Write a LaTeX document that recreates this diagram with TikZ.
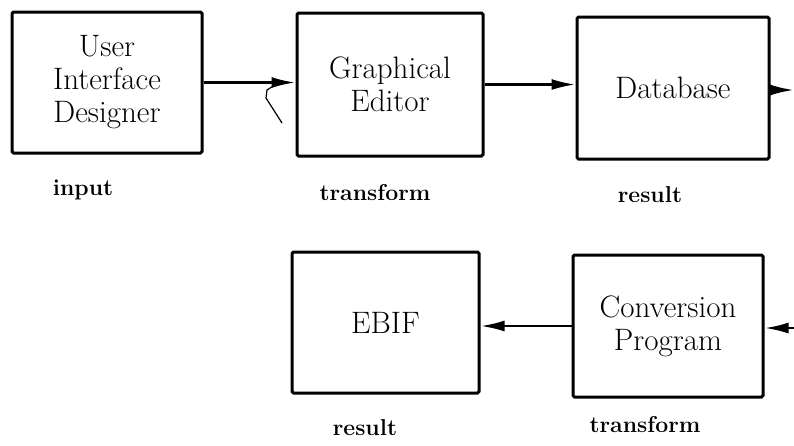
\documentclass[tikz,border=0pt]{standalone}
\usepackage{fontspec}
\setmainfont{Latin Modern Roman}
\usetikzlibrary{arrows.meta}
\begin{document}
\begin{tikzpicture}[x=1pt,y=-1pt,
  box/.style={draw,line width=3pt,rounded corners=1.5pt,align=center,
    font=\fontsize{31}{33}\selectfont,inner sep=0pt},
  lbl/.style={font=\fontsize{23}{26}\selectfont\bfseries},
  arr/.style={line width=2.6pt,-{Latex[length=24pt,width=11pt]}}]
\useasboundingbox (0,0) rectangle (794,445);
\node[box,minimum width=190pt,minimum height=141pt] (b1) at (107,82.5) {User\\Interface\\Designer};
\node[box,minimum width=186pt,minimum height=143pt] (b2) at (390,84.5) {Graphical\\Editor};
\node[box,minimum width=192pt,minimum height=142pt] (b3) at (673,88) {Database};
\node[box,minimum width=187pt,minimum height=141pt] (b4) at (385.5,322.5) {EBIF};
\node[box,minimum width=190pt,minimum height=142pt] (b5) at (668,326) {Conversion\\Program};
\node[lbl] (l1) at (83,190) {input};
\node[lbl] (l2) at (375,193) {transform};
\node[lbl] (l3) at (650,195) {result};
\node[lbl] (l4) at (365,428) {result};
\node[lbl] (l5) at (645,425) {transform};
\coordinate (o1) at (794,90);
\coordinate (i1) at (794,328);
\draw[arr] (b1.east) -- (b1.east -| b2.west);
\draw[arr] (b2.east) -- (b2.east -| b3.west);
\draw[arr] (b3.east |- o1) -- (o1);
\draw[arr] (i1) -- (i1 -| b5.east);
\draw[arr] (b5.west) -- (b5.west -| b4.east);
\draw[line width=1.2pt] (278,83) -- (267,90) -- (266,98) -- (282,123);
\end{tikzpicture}
\end{document}
